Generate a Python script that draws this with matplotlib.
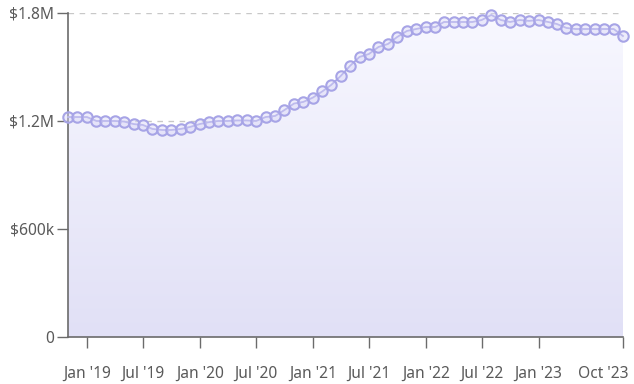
import numpy as np
import pandas as pd
import matplotlib
matplotlib.use("Agg")
import matplotlib.pyplot as plt
import matplotlib.dates as mdates
import matplotlib.transforms as mtransforms
from matplotlib.colors import LinearSegmentedColormap

plt.rcParams['font.family'] = ['Noto Sans', 'DejaVu Sans']

# monthly values, Nov 2018 .. Oct 2023 (in $M)
months = pd.date_range("2018-11-01", periods=60, freq="MS")
values_m = [
    1.222, 1.222, 1.222, 1.200, 1.200, 1.200, 1.197, 1.183, 1.178, 1.156,
    1.150, 1.150, 1.156, 1.167, 1.183, 1.194, 1.200, 1.200, 1.203, 1.203,
    1.200, 1.222, 1.228, 1.261, 1.297, 1.306, 1.330, 1.365, 1.400, 1.450,
    1.506, 1.556, 1.572, 1.611, 1.628, 1.667, 1.700, 1.711, 1.722, 1.722,
    1.750, 1.750, 1.750, 1.750, 1.761, 1.789, 1.761, 1.750, 1.761, 1.756,
    1.761, 1.750, 1.739, 1.717, 1.711, 1.711, 1.711, 1.711, 1.711, 1.672,
]
values = np.array(values_m) * 1e6

tick_dates = pd.to_datetime([
    "2019-01-01", "2019-07-01", "2020-01-01", "2020-07-01", "2021-01-01",
    "2021-07-01", "2022-01-01", "2022-07-01", "2023-01-01", "2023-10-01",
])
tick_labels = ["Jan '19", "Jul '19", "Jan '20", "Jul '20", "Jan '21",
               "Jul '21", "Jan '22", "Jul '22", "Jan '23", "Oct '23"]
y_ticks = [0, 600000, 1200000, 1800000]
y_labels = ["0", "$600k", "$1.2M", "$1.8M"]

line_color = "#a7a4e6"
text_color = "#5a5a5a"
axis_color = "#6b6b6b"

fig = plt.figure(figsize=(6.34, 3.84), dpi=100)
ax = fig.add_axes([0.1073, 0.1224, 0.8753, 0.8438])

x = mdates.date2num(months)
ax.set_xlim(x[0], x[-1])
ax.set_ylim(0, 1800000)

# gradient fill under the line
poly = ax.fill_between(x, values, 0, color="none", lw=0)
cmap = LinearSegmentedColormap.from_list("fade", ["#e1e0f6", "#f8f8ff"])
grad = np.linspace(0, 1, 256).reshape(-1, 1)
img = ax.imshow(grad, cmap=cmap, aspect="auto", origin="lower",
                extent=[x[0], x[-1], 0, 1800000], zorder=1)
img.set_clip_path(poly.get_paths()[0], transform=ax.transData)

for yv in y_ticks[1:]:
    ax.axhline(yv, color="#c8c8c8", lw=1, ls=(0, (4, 4)), zorder=0.5)

ax.plot(x, values, color=line_color, lw=1.3, marker="o", markersize=7.5,
        markerfacecolor=(0.85, 0.84, 0.97, 0.45), markeredgecolor=line_color,
        markeredgewidth=1.5, zorder=3, clip_on=False)

ax.set_xticks(mdates.date2num(tick_dates))
ax.set_xticklabels(tick_labels)
ax.set_yticks(y_ticks)
ax.set_yticklabels(y_labels)

for side in ["top", "right"]:
    ax.spines[side].set_visible(False)
for side in ["left", "bottom"]:
    ax.spines[side].set_color(axis_color)
    ax.spines[side].set_linewidth(1.2)

ax.tick_params(axis="x", length=8, width=1, color=axis_color, pad=13,
               labelsize=11.2, labelcolor=text_color)
ax.tick_params(axis="y", length=8, width=1, color=axis_color, pad=2,
               labelsize=11.2, labelcolor=text_color)

# keep the last label inside the figure
last = ax.get_xticklabels()[-1]
last.set_horizontalalignment("right")
last.set_transform(last.get_transform() +
                   mtransforms.ScaledTranslation(6 / 100, 0, fig.dpi_scale_trans))

fig.savefig("out.png", dpi=100)
